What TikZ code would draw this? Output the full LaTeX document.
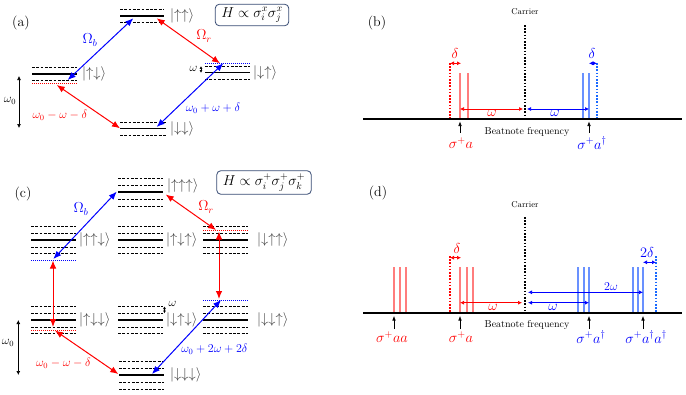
\documentclass[tikz,border=0pt]{standalone}
\usepackage{amsmath}
\usetikzlibrary{arrows.meta}
\definecolor{boxc}{RGB}{55,75,115}
\definecolor{lred}{RGB}{255,125,125}
\definecolor{lblue}{RGB}{105,145,255}
\definecolor{dblue}{RGB}{25,105,255}
\definecolor{ketc}{gray}{0.25}
\newcommand\mylev[6]{% x1 x2 y nabove nbelow spacing
  \draw[lvl] (#1,#3) -- (#2,#3);
  \foreach \k in {1,...,#4}{\draw[sublvl] (#1,{#3-\k*#6}) -- (#2,{#3-\k*#6});}
  \foreach \k in {1,...,#5}{\draw[sublvl] (#1,{#3+\k*#6}) -- (#2,{#3+\k*#6});}
}
\tikzset{
  lvl/.style={line width=1.5pt},
  sublvl/.style={line width=0.6pt, dash pattern=on 2.8pt off 1.5pt},
  reddot/.style={red, line width=0.8pt, dash pattern=on 1pt off 1pt},
  bluedot/.style={blue, line width=0.8pt, dash pattern=on 1pt off 1pt},
  big/.style={{Latex[length=8pt,width=6.5pt]}-{Latex[length=8pt,width=6.5pt]}, line width=1pt},
  smallarr/.style={{Latex[length=4pt,width=4pt]}-{Latex[length=4pt,width=4pt]}, line width=0.7pt},
  tinyarr/.style={{Latex[length=2.6pt,width=3pt]}-{Latex[length=2.6pt,width=3pt]}, line width=0.6pt},
  uparr/.style={-{Latex[length=4.5pt,width=3.6pt]}, line width=0.6pt},
  ket/.style={ketc, font=\fontsize{14}{16}\selectfont, anchor=west, inner sep=1pt},
  lab/.style={font=\fontsize{12}{14}\selectfont, inner sep=1pt},
  labb/.style={font=\fontsize{14}{16}\selectfont, inner sep=1pt},
  hbox/.style={draw=boxc, line width=0.8pt, rounded corners=4pt, font=\fontsize{14}{16}\selectfont, inner xsep=6pt, inner ysep=3pt},
  axisline/.style={line width=2.4pt},
  carrierline/.style={line width=2.4pt, dash pattern=on 1.6pt off 1.6pt},
  rdotline/.style={red, line width=2pt, dash pattern=on 1.6pt off 1.6pt},
  bdotline/.style={dblue, line width=2pt, dash pattern=on 1.6pt off 1.6pt},
  rline/.style={lred, line width=1.2pt},
  bline/.style={lblue, line width=1.2pt},
  small/.style={font=\fontsize{8.5}{10}\selectfont, inner sep=1pt},
  beat/.style={font=\fontsize{10}{12}\selectfont, inner sep=1pt},
}
\begin{document}
\begin{tikzpicture}[x=1pt,y=-1pt]
\path[use as bounding box] (0,0) rectangle (686,394);

%%%%%%%%%%%%%%%% (a)
\node[labb] (la) at (21,23) {(a)};
\node[hbox] (ha) at (252,15) {$H\propto\sigma_i^x\sigma_j^x$};
\mylev{120}{164}{16}{1}{1}{6.5}
\mylev{32}{77}{74}{1}{1}{6.5}
\draw[reddot] (32,83.5) -- (77,83.5);
\mylev{205}{250}{72.7}{1}{1}{6.5}
\draw[bluedot] (205,63) -- (250,63);
\mylev{120}{166}{128.5}{1}{1}{6.5}
\node[ket] (kuu) at (169,16) {$|{\uparrow\uparrow}\rangle$};
\node[ket] (kud) at (81,74) {$|{\uparrow\downarrow}\rangle$};
\node[ket] (kdu) at (252,72.7) {$|{\downarrow\uparrow}\rangle$};
\node[ket] (kdd) at (169,128.5) {$|{\downarrow\downarrow}\rangle$};
\coordinate (a1) at (67.7,80);
\coordinate (a2) at (133.3,18.3);
\coordinate (a3) at (156.7,18.3);
\coordinate (a4) at (220,63.3);
\coordinate (a5) at (223.3,63.3);
\coordinate (a6) at (156.7,127);
\coordinate (a7) at (120,128.3);
\coordinate (a8) at (56.7,85);
\draw[big,blue] (a1) -- (a2);
\draw[big,red] (a3) -- (a4);
\draw[big,blue] (a6) -- (a5);
\draw[big,red] (a8) -- (a7);
\node[labb,blue] (obA) at (90,40) {$\Omega_b$};
\node[labb,red] (orA) at (204,36) {$\Omega_r$};
\node[lab,red] (dmA) at (60,115) {$\omega_0-\omega-\delta$};
\node[lab,blue] (dpA) at (213,108) {$\omega_0+\omega+\delta$};
\coordinate (w0at) at (19,76);
\coordinate (w0ab) at (19,128);
\draw[smallarr] (w0at) -- (w0ab);
\node[lab] (w0a) at (10,101) {$\omega_0$};
\coordinate (wat) at (201,66.2);
\coordinate (wab) at (201,72.7);
\draw[tinyarr] (wat) -- (wab);
\node[lab] (wa) at (193.5,69) {$\omega$};

%%%%%%%%%%%%%%%% (b)
\node[labb] (lb) at (377,23) {(b)};
\node[small] (carb) at (525,12) {Carrier};
\draw[carrierline] (525,25) -- (525,118);
\draw[axisline] (363,119) -- (682,119);
\node[beat] (beatb) at (527,132) {Beatnote frequency};
\draw[rdotline] (450,63) -- (450,118);
\draw[rline] (460,73) -- (460,118);
\draw[rline] (468,73) -- (468,118);
\draw[bline] (583,73) -- (583,118);
\draw[bline] (589,73) -- (589,118);
\draw[bdotline] (597,63) -- (597,118);
\draw[smallarr,red] (450,63.3) -- (461,63.3);
\node[labb,red] (db1) at (455,53) {$\delta$};
\draw[smallarr,blue] (589,63.3) -- (597,63.3);
\node[labb,blue] (db2) at (592,53) {$\delta$};
\draw[smallarr,red] (460,109) -- (523,109);
\node[labb,red] (wb1) at (492,113.5) {$\omega$};
\draw[smallarr,blue] (527,109) -- (589,109);
\node[labb,blue] (wb2) at (555,113.5) {$\omega$};
\draw[uparr] (460,133) -- (460,121.5);
\draw[uparr] (589,133) -- (589,121.5);
\node[labb,red] (sb1) at (461,143) {$\sigma^+a$};
\node[labb,blue] (sb2) at (592,143) {$\sigma^+a^\dagger$};

%%%%%%%%%%%%%%%% (c)
\node[labb] (lc) at (23,194) {(c)};
\node[hbox] (hc) at (264,182.5) {$H\propto\sigma_i^+\sigma_j^+\sigma_k^+$};
\mylev{118}{163}{192}{2}{2}{7}
\mylev{31}{76}{240}{2}{2}{6.8}
\mylev{118}{163}{240}{2}{2}{6.8}
\mylev{203}{248}{240}{2}{2}{6.8}
\draw[bluedot] (31,260) -- (76,260);
\draw[reddot] (203,230) -- (248,230);
\mylev{31}{76}{320}{2}{2}{6.8}
\mylev{118}{163}{320}{2}{2}{6.8}
\mylev{203}{248}{320}{2}{2}{6.8}
\draw[reddot] (31,330) -- (76,330);
\draw[bluedot] (203,300) -- (248,300);
\mylev{119}{164}{375}{2}{2}{7}
\node[ket] (kuuu) at (166,186) {$|{\uparrow\uparrow\uparrow}\rangle$};
\node[ket] (kuud) at (78,240) {$|{\uparrow\uparrow\downarrow}\rangle$};
\node[ket] (kudu) at (165,240) {$|{\uparrow\downarrow\uparrow}\rangle$};
\node[ket] (kduu) at (256,240) {$|{\downarrow\uparrow\uparrow}\rangle$};
\node[ket] (kudd) at (78,320) {$|{\uparrow\downarrow\downarrow}\rangle$};
\node[ket] (kdud) at (165,320) {$|{\downarrow\uparrow\downarrow}\rangle$};
\node[ket] (kddu) at (256,320) {$|{\downarrow\downarrow\uparrow}\rangle$};
\node[ket] (kddd) at (169,375) {$|{\downarrow\downarrow\downarrow}\rangle$};
\coordinate (c1) at (53.3,259);
\coordinate (c2) at (116.7,191.7);
\coordinate (c3) at (165.7,194.5);
\coordinate (c4) at (216,230);
\coordinate (c5) at (219,231.5);
\coordinate (c6) at (219,299);
\coordinate (c7) at (221,300);
\coordinate (c8) at (152,374);
\coordinate (c9) at (53,260.5);
\coordinate (c10) at (53,327);
\coordinate (c11) at (55,330.5);
\coordinate (c12) at (118.3,374);
\draw[big,blue] (c1) -- (c2);
\draw[big,red] (c3) -- (c4);
\draw[big,red] (c5) -- (c6);
\draw[big,blue] (c8) -- (c7);
\draw[big,red] (c9) -- (c10);
\draw[big,red] (c11) -- (c12);
\node[labb,blue] (obC) at (81,209) {$\Omega_b$};
\node[labb,red] (orC) at (206,207) {$\Omega_r$};
\node[lab,red] (dmC) at (63.5,363) {$\omega_0-\omega-\delta$};
\node[lab,blue] (dpC) at (214.5,349) {$\omega_0+2\omega+2\delta$};
\coordinate (w0ct) at (18.3,320);
\coordinate (w0cb) at (18.3,375);
\draw[smallarr] (w0ct) -- (w0cb);
\node[lab] (w0c) at (8,343) {$\omega_0$};
\coordinate (wct) at (164.5,306.4);
\coordinate (wcb) at (164.5,313.2);
\draw[tinyarr] (wct) -- (wcb);
\node[lab] (wc) at (172.5,303.5) {$\omega$};

%%%%%%%%%%%%%%%% (d)
\node[labb] (ld) at (378,193) {(d)};
\node[small] (card) at (525,205) {Carrier};
\draw[carrierline] (525,217) -- (525,312);
\draw[axisline] (363,313) -- (682,313);
\node[beat] (beatd) at (527,325) {Beatnote frequency};
\foreach \xx in {394,400,406,460,467,473} {\draw[rline] (\xx,267) -- (\xx,312);}
\foreach \xx in {578,584,589,633,638,643} {\draw[bline] (\xx,267) -- (\xx,312);}
\draw[rdotline] (450,256) -- (450,312);
\draw[bdotline] (655.7,256) -- (655.7,312);
\draw[smallarr,red] (450,257.7) -- (461,257.7);
\node[labb,red] (dd1) at (457,248) {$\delta$};
\draw[smallarr,blue] (643,262.3) -- (656,262.3);
\node[labb,blue] (dd2) at (647,252.5) {$2\delta$};
\draw[smallarr,red] (460,302.7) -- (522,302.7);
\node[labb,red] (wd1) at (493,307.7) {$\omega$};
\draw[smallarr,blue,line width=1pt] (528,302.7) -- (589,302.7);
\node[labb,blue] (wd2) at (553,307.7) {$\omega$};
\draw[smallarr,blue] (528,292.3) -- (643,292.3);
\node[lab,blue] (wd3) at (611,286.7) {$2\omega$};
\draw[uparr] (394,329) -- (394,316);
\draw[uparr] (460,329) -- (460,316);
\draw[uparr] (589,329) -- (589,316);
\draw[uparr] (643,329) -- (643,316);
\node[labb,red] (sd0) at (392,337) {$\sigma^+aa$};
\node[labb,red] (sd1) at (461,337) {$\sigma^+a$};
\node[labb,blue] (sd2) at (591,337) {$\sigma^+a^\dagger$};
\node[labb,blue] (sd3) at (646,337) {$\sigma^+a^\dagger a^\dagger$};
\end{tikzpicture}
\end{document}
